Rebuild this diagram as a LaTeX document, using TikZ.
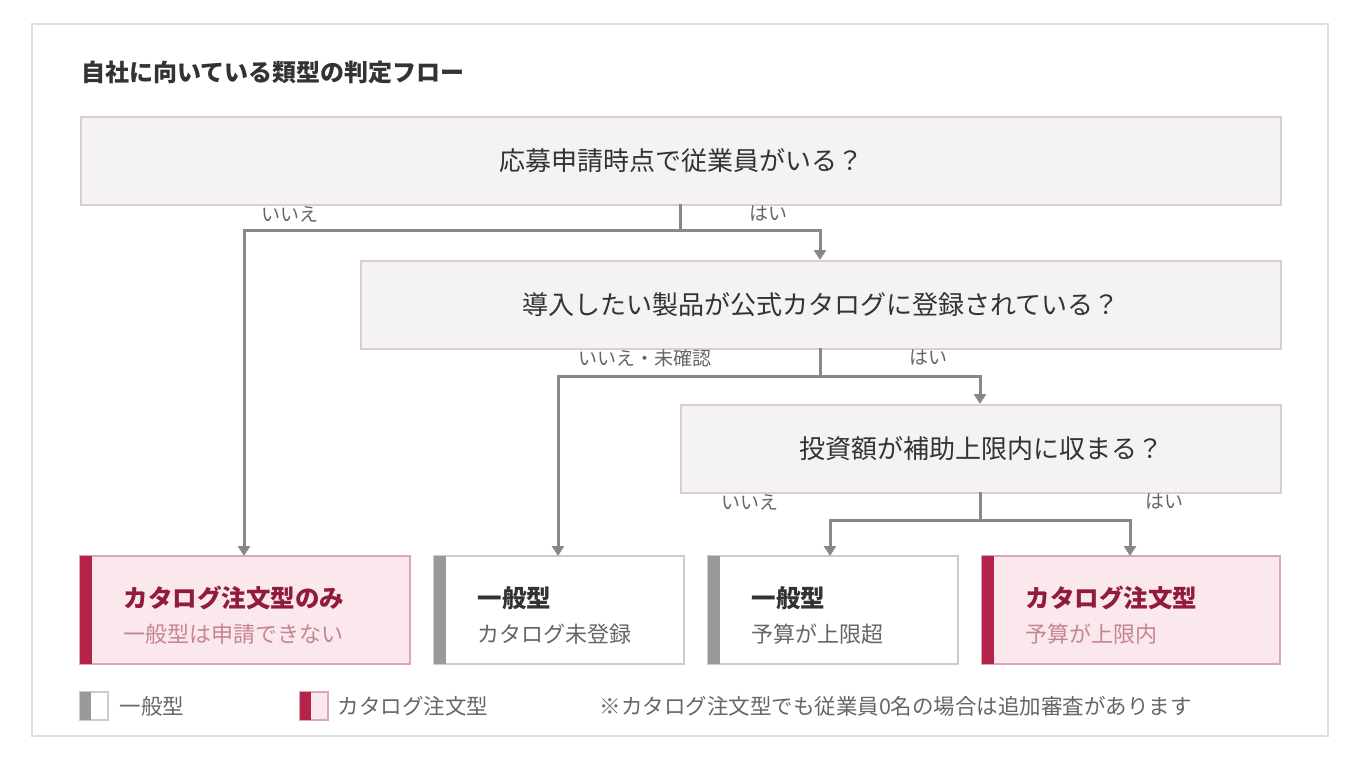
\documentclass[tikz,border=0pt]{standalone}
\usepackage{fontspec}
\setmainfont{Noto Sans CJK JP}
\usetikzlibrary{calc, positioning, arrows.meta}
\definecolor{accent}{HTML}{B5224A}
\definecolor{pinkfill}{HTML}{FBE8EC}
\definecolor{pinkline}{HTML}{DDA5B5}
\definecolor{qfill}{HTML}{F4F3F2}
\definecolor{qline}{HTML}{DCCDD0}
\definecolor{arrowgray}{HTML}{888888}
\definecolor{txt}{HTML}{333333}
\definecolor{subtxt}{HTML}{666666}
\tikzset{
    question/.style={draw=qline, fill=qfill, line width=2pt, anchor=north west, inner sep=0pt,
        font=\fontsize{26}{30}\selectfont, text=txt},
    branch/.style={draw=arrowgray, line width=3pt, -{Triangle[length=10pt, width=12pt]}},
    answer/.style={font=\fontsize{19}{22}\selectfont, text=subtxt},
    legend/.style={font=\fontsize{21.5}{25}\selectfont, text=subtxt, anchor=west},
}
\newcommand{\resultbox}[6]{% name, x1, x2, fill, line, bar
    \draw [fill=#4, draw=#5, line width=2pt] (#2, 556) rectangle (#3, 664);
    \fill [#6] (#2, 556) rectangle ++(12, 108);
    \coordinate (#1) at ($(#2, 556)!0.5!(#3, 556)$);
}
\begin{document}
\begin{tikzpicture}[x=1pt, y=-1pt]
    \useasboundingbox (0, 0) rectangle (1360, 760);
    \draw [draw=black!13, line width=2pt] (32, 24) rectangle (1328, 736);
    \node [anchor=west, font=\bfseries\fontsize{24}{28}\selectfont, text=txt] (title) at (78, 72) {自社に向いている類型の判定フロー};
    % 判定ボックス
    \node [question, minimum width=1200pt, minimum height=88pt] (q1) at (80, 116) {応募申請時点で従業員がいる？};
    \node [question, minimum width=920pt, minimum height=88pt] (q2) at (360, 260) {導入したい製品が公式カタログに登録されている？};
    \node [question, minimum width=600pt, minimum height=88pt] (q3) at (680, 404) {投資額が補助上限内に収まる？};
    % 結果ボックス
    \resultbox{r1}{80}{410}{pinkfill}{pinkline}{accent}
    \resultbox{r2}{434}{684}{white}{black!20}{black!40}
    \resultbox{r3}{708}{958}{white}{black!20}{black!40}
    \resultbox{r4}{982}{1280}{pinkfill}{pinkline}{accent}
    \tikzset{rtitle/.style={anchor=west, font=\bfseries\fontsize{24.5}{28}\selectfont},
        rsub/.style={anchor=west, font=\fontsize{22}{26}\selectfont}}
    \node [rtitle, text=accent!80!black] (r1t) at (120, 598) {カタログ注文型のみ};
    \node [rsub, text=accent!55!white!80!gray] (r1s) at (120, 634) {一般型は申請できない};
    \node [rtitle, text=txt] (r2t) at (474, 598) {一般型};
    \node [rsub, text=subtxt] (r2s) at (474, 634) {カタログ未登録};
    \node [rtitle, text=txt] (r3t) at (748, 598) {一般型};
    \node [rsub, text=subtxt] (r3s) at (748, 634) {予算が上限超};
    \node [rtitle, text=accent!80!black] (r4t) at (1022, 598) {カタログ注文型};
    \node [rsub, text=accent!55!white!80!gray] (r4s) at (1022, 634) {予算が上限内};
    % 分岐
    \coordinate (q1b) at (680, 204);
    \coordinate (q2b) at (820, 348);
    \coordinate (q3b) at (980, 492);
    \draw [branch] (q1b) |- (244, 230) -- (244, 556);
    \draw [branch] (q1b) |- (820, 230) -- (820, 260);
    \draw [branch] (q2b) |- (558, 376) -- (558, 556);
    \draw [branch] (q2b) |- (980, 376) -- (980, 404);
    \draw [branch] (q3b) |- (830, 520) -- (830, 556);
    \draw [branch] (q3b) |- (1130, 520) -- (1130, 556);
    \node [answer] (a1n) at (290, 214) {いいえ};
    \node [answer] (a1y) at (768, 214) {はい};
    \node [answer] (a2n) at (645, 358) {いいえ・未確認};
    \node [answer] (a2y) at (928, 358) {はい};
    \node [answer] (a3n) at (750, 502) {いいえ};
    \node [answer] (a3y) at (1164, 502) {はい};
    % 凡例
    \draw [fill=white, draw=black!20, line width=2pt] (80, 692) rectangle (108, 720);
    \fill [black!40] (80, 692) rectangle (91, 720);
    \node [legend] (lg1) at (116, 706) {一般型};
    \draw [fill=pinkfill, draw=pinkline, line width=2pt] (300, 692) rectangle (328, 720);
    \fill [accent] (300, 692) rectangle (311, 720);
    \node [legend] (lg2) at (334, 706) {カタログ注文型};
    \node [legend] (note) at (596, 706) {※カタログ注文型でも従業員0名の場合は追加審査があります};
\end{tikzpicture}
\end{document}
